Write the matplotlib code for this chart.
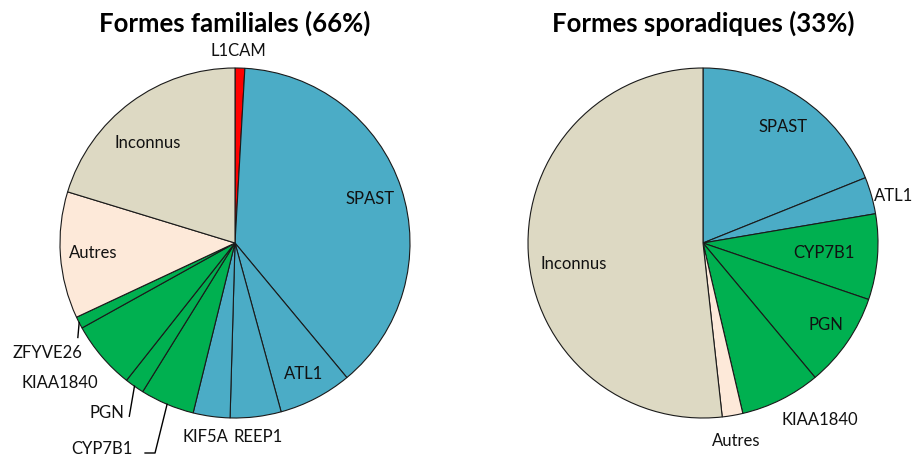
import numpy as np
import matplotlib
matplotlib.use("Agg")
import matplotlib.pyplot as plt

plt.rcParams['font.family'] = ['Lato', 'DejaVu Sans']

# Formes familiales (%)
fam_labels = ["L1CAM", "SPAST", "ATL1", "REEP1", "KIF5A", "CYP7B1", "PGN",
              "KIAA1840", "ZFYVE26", "Autres", "Inconnus"]
fam_values = [0.9, 38.1, 6.8, 4.7, 3.4, 5.0, 1.8, 6.3, 1.1, 11.7, 20.3]

# Formes sporadiques (%)
spo_labels = ["SPAST", "ATL1", "CYP7B1", "PGN", "KIAA1840", "Autres", "Inconnus"]
spo_values = [18.9, 3.4, 7.9, 8.7, 7.4, 1.9, 51.7]

BLUE = "#4BACC6"
GREEN = "#00B050"
RED = "#FF0000"
AUTRES = "#FDE9D9"
INCONNUS = "#DDD9C3"

gene_colors = {"L1CAM": RED, "SPAST": BLUE, "ATL1": BLUE, "REEP1": BLUE,
               "KIF5A": BLUE, "CYP7B1": GREEN, "PGN": GREEN, "KIAA1840": GREEN,
               "ZFYVE26": GREEN, "Autres": AUTRES, "Inconnus": INCONNUS}

# label positions, in pie-radius units
fam_text_pos = {"L1CAM": (0.02, 1.10), "SPAST": (0.77, 0.25), "ATL1": (0.39, -0.75),
                "REEP1": (0.13, -1.11), "KIF5A": (-0.17, -1.11),
                "CYP7B1": (-0.76, -1.18), "PGN": (-0.73, -0.97),
                "KIAA1840": (-1.0, -0.80), "ZFYVE26": (-1.07, -0.63),
                "Autres": (-0.81, -0.06), "Inconnus": (-0.50, 0.57)}
spo_text_pos = {"SPAST": (0.46, 0.66), "ATL1": (1.09, 0.27), "CYP7B1": (0.69, -0.06),
                "PGN": (0.70, -0.47), "KIAA1840": (0.67, -1.01),
                "Autres": (0.19, -1.13), "Inconnus": (-0.74, -0.12)}

# leader lines: path after the wedge edge point
fam_leaders = {"ZFYVE26": [(-0.898, -0.54)],
               "PGN": [(-0.604, -0.99)],
               "CYP7B1": [(-0.457, -1.20), (-0.514, -1.20)]}

W, H = 914, 458
R = 175


def draw_pie(center_px, labels, values, text_pos, leaders, title):
    cx, cy = center_px
    ax = fig.add_axes([(cx - R) / W, (H - cy - R) / H, 2 * R / W, 2 * R / H])
    wedges, _ = ax.pie(values, colors=[gene_colors[l] for l in labels],
                       startangle=90, counterclock=False, radius=1,
                       wedgeprops=dict(edgecolor="#1a1a1a", linewidth=0.8))
    ax.set_xlim(-1, 1)
    ax.set_ylim(-1, 1)
    ax.set_aspect("equal")
    ax.axis("off")
    for w, lab in zip(wedges, labels):
        x, y = text_pos[lab]
        ax.text(x, y, lab, ha="center", va="center", fontsize=12,
                color="#111111", clip_on=False)
        if lab in leaders:
            mid = np.deg2rad((w.theta1 + w.theta2) / 2)
            pts = [(np.cos(mid), np.sin(mid))] + leaders[lab]
            xs, ys = zip(*pts)
            ax.plot(xs, ys, color="black", lw=1.0, clip_on=False)
    ax.text(0, 1.255, title, ha="center", va="center", fontsize=18.5,
            fontweight="bold", clip_on=False)
    return ax


fig = plt.figure(figsize=(W / 100, H / 100), dpi=100)
draw_pie((235, 243), fam_labels, fam_values, fam_text_pos, fam_leaders,
         "Formes familiales (66%)")
draw_pie((703, 243), spo_labels, spo_values, spo_text_pos, {},
         "Formes sporadiques (33%)")
fig.savefig("out.png", dpi=100)
